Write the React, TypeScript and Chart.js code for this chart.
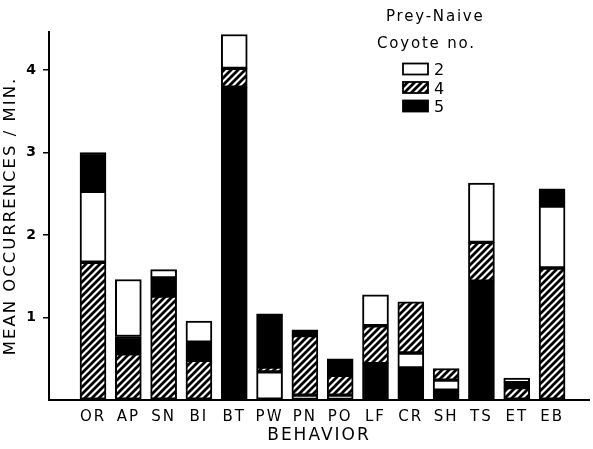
import { useEffect, useRef } from 'react';
import { Chart, registerables } from 'chart.js';

Chart.register(...registerables);

const FONT = '"DejaVu Sans", "Liberation Sans", sans-serif';

const categories = ['OR', 'AP', 'SN', 'BI', 'BT', 'PW', 'PN', 'PO', 'LF', 'CR', 'SH', 'TS', 'ET', 'EB'];

// Each entry: [segment start, segment end] in mean occurrences / min.
const coyote2: [number, number][] = [
  [1.67, 2.53], [0.77, 1.46], [1.48, 1.58], [0.7, 0.955], [4.02, 4.43], [0, 0.34], [0, 0.06],
  [0, 0.06], [0.9, 1.275], [0.39, 0.57], [0.12, 0.24], [1.91, 2.63], [0.21, 0.265], [1.6, 2.35],
];
const coyote4: [number, number][] = [
  [0, 1.67], [0, 0.56], [0, 1.26], [0, 0.48], [3.79, 4.02], [0.34, 0.4], [0.06, 0.78],
  [0.06, 0.3], [0.44, 0.9], [0.57, 1.19], [0.24, 0.38], [1.44, 1.91], [0, 0.15], [0, 1.6],
];
const coyote5: [number, number][] = [
  [2.53, 3.0], [0.56, 0.77], [1.26, 1.48], [0.48, 0.7], [0, 3.79], [0.4, 1.045], [0.78, 0.85],
  [0.3, 0.5], [0, 0.44], [0, 0.39], [0, 0.12], [0, 1.44], [0.15, 0.21], [2.35, 2.56],
];

const seriesLabels = ['2', '4', '5'];
const yTicks = [1, 2, 3, 4];
const yTitle = 'MEAN OCCURRENCES / MIN.';
const xTitle = 'BEHAVIOR';
const legendTitle1 = 'Prey-Naive';
const legendTitle2 = 'Coyote no.';

function makeHatch(): CanvasPattern | string {
  const s = 7;
  const c = document.createElement('canvas');
  c.width = s;
  c.height = s;
  const g = c.getContext('2d');
  if (!g) return '#888';
  g.fillStyle = '#fff';
  g.fillRect(0, 0, s, s);
  g.strokeStyle = '#000';
  g.lineWidth = 2.8;
  g.beginPath();
  for (const k of [-s, 0, s]) {
    g.moveTo(k - 1, s + 1);
    g.lineTo(k + s + 1, -1);
  }
  g.stroke();
  const p = g.createPattern(c, 'repeat');
  return p || '#888';
}

export default function App() {
  const ref = useRef<HTMLCanvasElement>(null);

  useEffect(() => {
    const canvas = ref.current;
    if (!canvas) return;
    const hatch = makeHatch();

    const mk = (label: string, arr: [number, number][], bg: any) => ({
      label,
      data: arr.map((r, i) => ({ x: i, y: r })),
      backgroundColor: bg,
      borderColor: '#000',
      borderWidth: 2,
      borderSkipped: false,
      grouped: false,
      barThickness: 26,
    });

    const extras = {
      id: 'extras',
      beforeDraw(chart: any) {
        chart.ctx.letterSpacing = '2px';
      },
      afterDraw(chart: any) {
        const ctx = chart.ctx;
        ctx.save();
        ctx.fillStyle = '#000';
        ctx.textAlign = 'left';
        ctx.textBaseline = 'alphabetic';
        ctx.font = `15px ${FONT}`;
        ctx.letterSpacing = '1.8px';
        ctx.fillText(legendTitle1, 386, 21);
        ctx.fillText(legendTitle2, 377, 48);
        chart.data.datasets.forEach((ds: any, i: number) => {
          const y = 63.5 + i * 18.5;
          ctx.fillStyle = ds.backgroundColor;
          ctx.fillRect(403, y, 25, 11);
          ctx.strokeStyle = '#000';
          ctx.lineWidth = 1.8;
          ctx.strokeRect(403, y, 25, 11);
          ctx.fillStyle = '#000';
          ctx.font = `16px ${FONT}`;
          ctx.letterSpacing = '0px';
          ctx.fillText(ds.label, 434, y + 11.5);
        });
        ctx.restore();
      },
    };

    const chart = new Chart(canvas, {
      type: 'bar',
      data: {
        datasets: [
          mk(seriesLabels[0], coyote2, '#ffffff'),
          mk(seriesLabels[1], coyote4, hatch),
          mk(seriesLabels[2], coyote5, '#000000'),
        ],
      },
      options: {
        responsive: false,
        animation: false,
        events: [],
        layout: { padding: { left: 0, top: 32, right: 4, bottom: 0 } },
        plugins: { legend: { display: false }, tooltip: { enabled: false } },
        scales: {
          x: {
            type: 'linear',
            min: -0.7,
            max: 13.5,
            afterFit: (s: any) => {
              s.height = 49;
            },
            grid: { display: false, drawTicks: false },
            border: { display: true, color: '#000', width: 2 },
            ticks: {
              stepSize: 1,
              includeBounds: false,
              autoSkip: false,
              maxRotation: 0,
              padding: 8,
              color: '#000',
              font: { family: FONT, size: 15 },
              callback: (v: any) => categories[Math.round(Number(v))] ?? '',
            },
            title: {
              display: true,
              text: xTitle,
              color: '#000',
              font: { family: FONT, size: 17 },
              padding: { top: 0, bottom: 3 },
            },
          },
          y: {
            min: 0,
            max: 4.46,
            afterFit: (s: any) => {
              s.width = 49;
            },
            grid: {
              drawOnChartArea: false,
              drawTicks: true,
              tickLength: 6,
              lineWidth: 1.5,
              color: (c: any) => (c.tick && c.tick.value === 0 ? 'rgba(0,0,0,0)' : '#000'),
            },
            border: { display: true, color: '#000', width: 2 },
            ticks: {
              stepSize: 1,
              includeBounds: false,
              padding: 5,
              color: '#000',
              font: { family: FONT, size: 14, weight: 'bold' },
              callback: (v: any) => (yTicks.includes(Number(v)) ? String(v) : ''),
            },
            title: {
              display: true,
              text: yTitle,
              color: '#000',
              font: { family: FONT, size: 16.5 },
              padding: { top: 1, bottom: 0 },
            },
          },
        },
      },
      plugins: [extras],
    } as any);

    return () => chart.destroy();
  }, []);

  return (
    <div style={{ position: 'fixed', left: 0, top: 0, width: 593, height: 449, background: '#fff' }}>
      <canvas ref={ref} width={593} height={449} style={{ display: 'block', width: 593, height: 449 }} />
    </div>
  );
}
